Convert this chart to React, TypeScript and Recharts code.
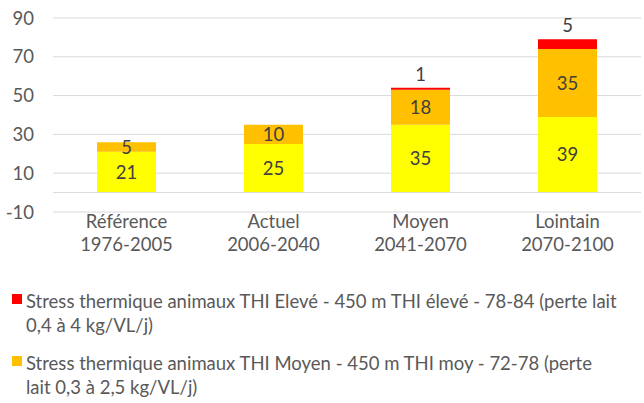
import { BarChart, Bar, XAxis, YAxis, CartesianGrid, LabelList, ReferenceLine } from 'recharts'

const periodNames = ['Référence', 'Actuel', 'Moyen', 'Lointain']
const periodYears = ['1976-2005', '2006-2040', '2041-2070', '2070-2100']
const lowValues = [21, 25, 35, 39]
const mediumValues = [5, 10, 18, 35]
const highValues = [0, 0, 1, 5]
const yTicks = [-10, 10, 30, 50, 70, 90]

const highName = 'Stress thermique animaux THI Elevé - 450 m THI élevé - 78-84 (perte lait\n0,4 à 4 kg/VL/j)'
const mediumName = 'Stress thermique animaux THI Moyen - 450 m THI moy - 72-78 (perte\nlait 0,3 à 2,5 kg/VL/j)'

const FONT = 'Lato, "Open Sans", sans-serif'
const AXIS_COLOR = '#595959'
const LABEL_COLOR = '#404040'
const GRID = '#d9d9d9'

const data = periodNames.map((name, i) => ({
  name,
  years: periodYears[i],
  low: lowValues[i],
  medium: mediumValues[i],
  high: highValues[i],
}))

const legendItems = [
  { name: highName, color: '#ff0000' },
  { name: mediumName, color: '#ffc000' },
]

function CategoryTick({ x, y, payload }: any) {
  const i = periodNames.indexOf(payload.value)
  return (
    <text x={x} y={y} textAnchor="middle" fill={AXIS_COLOR} fontSize={18.5} fontFamily={FONT}>
      <tspan x={x} dy={14}>{payload.value}</tspan>
      <tspan x={x} dy={23}>{periodYears[i]}</tspan>
    </text>
  )
}

function TopLabel({ x, y, width, value }: any) {
  if (!value) return null
  return (
    <text x={x + width / 2} y={y - 7} textAnchor="middle" fill={LABEL_COLOR} fontSize={18.5} fontFamily={FONT}>
      {value}
    </text>
  )
}

export default function App() {
  return (
    <div style={{ position: 'absolute', left: 0, top: 0, width: 644, height: 403, background: '#fff', fontFamily: FONT }}>
      <BarChart width={644} height={265} data={data} margin={{ top: 18, right: 3, left: 0, bottom: 0 }}>
        <CartesianGrid vertical={false} stroke={GRID} strokeWidth={1} />
        <XAxis
          dataKey="name"
          axisLine={false}
          tickLine={false}
          tickSize={0}
          height={53}
          interval={0}
          tick={<CategoryTick />}
        />
        <YAxis
          domain={[-10, 90]}
          ticks={yTicks}
          axisLine={false}
          tickLine={false}
          tickSize={0}
          tickMargin={19}
          width={53}
          tick={{ fill: AXIS_COLOR, fontSize: 18.5, fontFamily: FONT }}
        />
        <ReferenceLine y={0} stroke={GRID} strokeWidth={1} />
        <Bar dataKey="low" stackId="a" fill="#ffff00" barSize={59} isAnimationActive={false}>
          <LabelList dataKey="low" position="center" fill={LABEL_COLOR} fontSize={18.5} fontFamily={FONT} />
        </Bar>
        <Bar dataKey="medium" stackId="a" fill="#ffc000" barSize={59} isAnimationActive={false}>
          <LabelList dataKey="medium" position="center" fill={LABEL_COLOR} fontSize={18.5} fontFamily={FONT} />
        </Bar>
        <Bar dataKey="high" stackId="a" fill="#ff0000" barSize={59} isAnimationActive={false}>
          <LabelList dataKey="high" content={<TopLabel />} />
        </Bar>
      </BarChart>
      <div style={{ position: 'absolute', left: 12, top: 289, width: 632 }}>
        {legendItems.map((item) => (
          <div key={item.color} style={{ position: 'relative', paddingLeft: 14, marginBottom: 14 }}>
            <span
              style={{
                position: 'absolute',
                left: 0,
                top: 5,
                width: 10,
                height: 10,
                background: item.color,
              }}
            />
            <div style={{ whiteSpace: 'pre-line', fontSize: 18.5, lineHeight: '24px', color: AXIS_COLOR }}>
              {item.name}
            </div>
          </div>
        ))}
      </div>
    </div>
  )
}
